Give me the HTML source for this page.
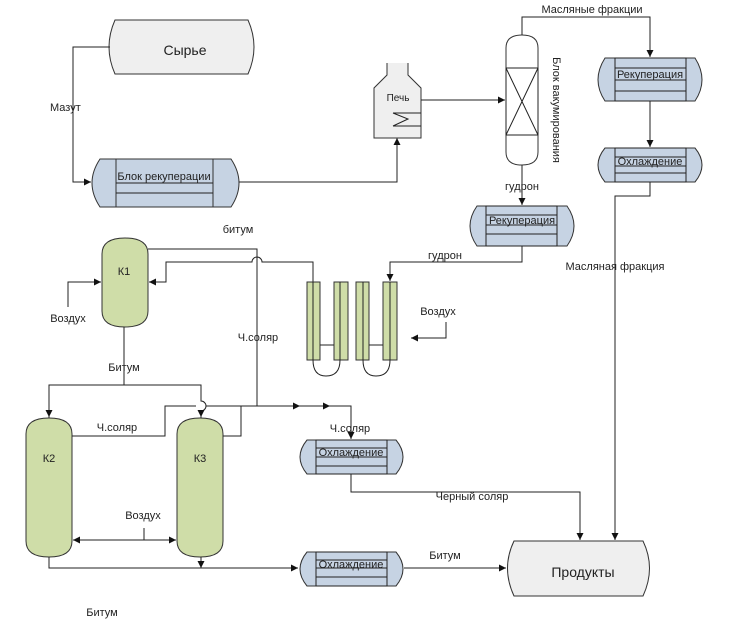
<!DOCTYPE html>
<html><head><meta charset="utf-8"><style>
body{margin:0;background:#fff}
svg{display:block}
text{font-family:"Liberation Sans",sans-serif;font-size:11px;fill:#222}
</style></head><body>
<svg width="730" height="620" viewBox="0 0 730 620" xmlns="http://www.w3.org/2000/svg">
<defs>
<marker id="a" markerWidth="8" markerHeight="8" refX="7" refY="4" orient="auto" markerUnits="userSpaceOnUse"><path d="M0,0.5 L7,4 L0,7.5 Z" fill="#111"/></marker>
</defs>
<g fill="none" stroke="#222" stroke-width="1">
<!-- Сырье -->
<path d="M115,20 H248 Q260,47 248,74 H115 Q103,47 115,20 Z" fill="#efefef" stroke="#333"/>
<!-- Мазут -->
<path d="M110,47 H73 V182 H91" marker-end="url(#a)"/>
<!-- Block recup -->
<path d="M100,159 H231 Q247,183 231,207 H100 Q84,183 100,159 Z" fill="#c6d3e3" stroke="#333"/>
<rect x="116" y="159" width="97" height="48" stroke="#333"/>
<line x1="116" y1="183" x2="213" y2="183"/><line x1="116" y1="193" x2="213" y2="193"/>
<path d="M239,182 H397 V138" marker-end="url(#a)"/>
<!-- furnace -->
<path d="M387,63 V75 L374,88 V138 H421 V88 L408,75 V63" fill="#efefef" stroke="#333"/>
<line x1="393" y1="113" x2="421" y2="113"/><line x1="393" y1="126" x2="421" y2="126"/>
<path d="M393,113 L408,119 L393,126"/>
<path d="M421,100 H505" marker-end="url(#a)"/>
<!-- column -->
<path d="M506,48 Q506,35 522,35 Q538,35 538,48 V152 Q538,165 522,165 Q506,165 506,152 Z" fill="#fff" stroke="#333"/>
<rect x="506" y="68" width="32" height="67"/>
<path d="M506,68 L538,135 M538,68 L506,135"/>
<path d="M522,35 V17 H650 V57" marker-end="url(#a)"/>
<!-- right Рекуперация -->
<path d="M605,58 H695 Q709,80 695,101 H605 Q591,80 605,58 Z" fill="#c6d3e3" stroke="#333"/>
<rect x="615" y="58" width="71" height="43"/>
<path d="M615,68 H686 M615,80 H686 M615,91 H686"/>
<path d="M650,101 V147" marker-end="url(#a)"/>
<!-- right Охлаждение -->
<path d="M605,148 H695 Q709,165 695,182 H605 Q591,165 605,148 Z" fill="#c6d3e3" stroke="#333"/>
<rect x="615" y="148" width="71" height="34"/>
<path d="M615,157 H686 M615,166 H686 M615,173 H686"/>
<path d="M650,182 V196 H615 V540" marker-end="url(#a)"/>
<path d="M522,165 V205" marker-end="url(#a)"/>
<!-- mid Рекуперация -->
<path d="M477,206 H567 Q581,226 567,246 H477 Q463,226 477,206 Z" fill="#c6d3e3" stroke="#333"/>
<rect x="486" y="206" width="71" height="40"/>
<path d="M486,215 H557 M486,225 H557 M486,234 H557"/>
<path d="M522,246 V262 H390 V281" marker-end="url(#a)"/>
<!-- K1 -->
<path d="M102,254 Q102,238 125,238 Q148,238 148,254 V311 Q148,327 125,327 Q102,327 102,311 Z" fill="#cfdda8" stroke="#333"/>
<path d="M148,249 H257 V406"/>
<path d="M313,282 V262 H262 A5,5 0 0 0 252,262 H166 V282 H149" marker-end="url(#a)"/>
<path d="M68,307 V282 H101" marker-end="url(#a)"/>
<!-- tubes -->
<g fill="#cfdda8" stroke="#333">
<rect x="307" y="282" width="13" height="78"/><rect x="334" y="282" width="14" height="78"/>
<rect x="356" y="282" width="13" height="78"/><rect x="383" y="282" width="14" height="78"/>
</g>
<path d="M313,282 V360 M340,282 V360 M363,282 V360 M390,282 V360"/>
<path d="M320,345 H334 M369,345 H383"/>
<path d="M313,360 Q313,376 326,376 Q340,376 340,360 M363,360 Q363,376 376,376 Q390,376 390,360"/>
<path d="M446,322 V338 H411" marker-end="url(#a)"/>
<!-- K2/K3 -->
<path d="M124,327 V385 M49,418 V385 H201 V401 A5,5 0 0 1 201,411 V418"/>
<path d="M49,385 V417" marker-end="url(#a)"/>
<path d="M201,410 V417" marker-end="url(#a)"/>
<path d="M26,434 Q26,418 49,418 Q72,418 72,434 V541 Q72,557 49,557 Q26,557 26,541 Z" fill="#cfdda8" stroke="#333"/>
<path d="M177,434 Q177,418 200,418 Q223,418 223,434 V541 Q223,557 200,557 Q177,557 177,541 Z" fill="#cfdda8" stroke="#333"/>
<path d="M72,436 H165 V406 H196 M206,406 H300" />
<path d="M223,436 H241 V406"/>
<path d="M257,406 H300" marker-end="url(#a)"/>
<path d="M300,406 H330" marker-end="url(#a)"/>
<path d="M330,406 H351 V439" marker-end="url(#a)"/>
<!-- mid Охлаждение -->
<path d="M307,440 H396 Q410,457 396,474 H307 Q293,457 307,440 Z" fill="#c6d3e3" stroke="#333"/>
<rect x="316" y="440" width="71" height="34"/>
<path d="M316,448 H387 M316,457 H387 M316,466 H387"/>
<path d="M351,474 V492 H580 V540" marker-end="url(#a)"/>
<path d="M144,528 V540 H73" marker-end="url(#a)"/>
<path d="M106,540 H176" marker-end="url(#a)"/>
<path d="M49,557 V568 H298" marker-end="url(#a)"/>
<path d="M201,557 V568" marker-end="url(#a)"/>
<!-- bottom Охлаждение -->
<path d="M307,552 H396 Q410,569 396,586 H307 Q293,569 307,552 Z" fill="#c6d3e3" stroke="#333"/>
<rect x="316" y="552" width="71" height="34"/>
<path d="M316,560 H387 M316,568 H387 M316,577 H387"/>
<path d="M404,568 H506" marker-end="url(#a)"/>
<!-- Продукты -->
<path d="M514,541 H643 Q656,568 643,596 H514 Q501,568 514,541 Z" fill="#efefef" stroke="#333"/>
</g>
<!-- texts -->
<text x="185" y="55" text-anchor="middle" style="font-size:14px">Сырье</text>
<text x="50" y="111">Мазут</text>
<text x="164" y="180" text-anchor="middle">Блок рекуперации</text>
<text x="398" y="101" text-anchor="middle" style="font-size:10px">Печь</text>
<text x="592" y="13" text-anchor="middle">Масляные фракции</text>
<text transform="translate(553,110) rotate(90)" text-anchor="middle">Блок вакумирования</text>
<text x="650" y="78" text-anchor="middle">Рекуперация</text>
<text x="650" y="165" text-anchor="middle">Охлаждение</text>
<text x="522" y="190" text-anchor="middle">гудрон</text>
<text x="522" y="224" text-anchor="middle">Рекуперация</text>
<text x="445" y="259" text-anchor="middle">гудрон</text>
<text x="615" y="270" text-anchor="middle">Масляная фракция</text>
<text x="238" y="233" text-anchor="middle">битум</text>
<text x="124" y="275" text-anchor="middle">К1</text>
<text x="68" y="322" text-anchor="middle">Воздух</text>
<text x="438" y="315" text-anchor="middle">Воздух</text>
<text x="258" y="341" text-anchor="middle">Ч.соляр</text>
<text x="124" y="371" text-anchor="middle">Битум</text>
<text x="117" y="431" text-anchor="middle">Ч.соляр</text>
<text x="350" y="432" text-anchor="middle">Ч.соляр</text>
<text x="49" y="462" text-anchor="middle">К2</text>
<text x="200" y="462" text-anchor="middle">К3</text>
<text x="351" y="456" text-anchor="middle">Охлаждение</text>
<text x="472" y="500" text-anchor="middle">Черный соляр</text>
<text x="143" y="519" text-anchor="middle">Воздух</text>
<text x="445" y="559" text-anchor="middle">Битум</text>
<text x="351" y="568" text-anchor="middle">Охлаждение</text>
<text x="583" y="577" text-anchor="middle" style="font-size:14px">Продукты</text>
<text x="102" y="616" text-anchor="middle">Битум</text>
</svg>
</body></html>
